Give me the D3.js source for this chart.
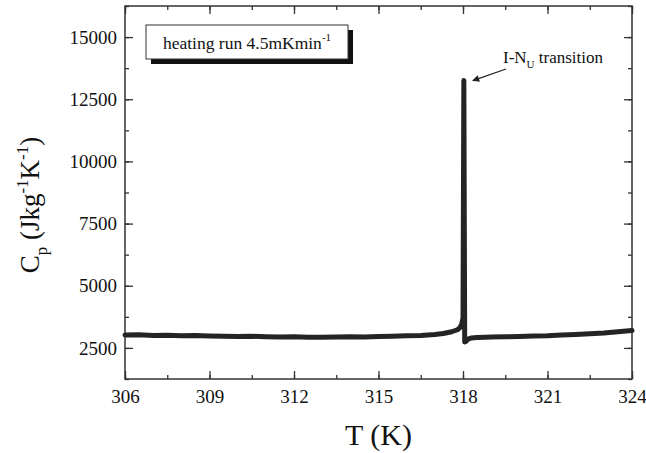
<!DOCTYPE html>
<html>
<head>
<meta charset="utf-8">
<script src="https://cdn.jsdelivr.net/npm/d3@7"></script>
<style>
  body { margin: 0; background: #fff; }
  svg { display: block; font-family: "Liberation Serif", "DejaVu Serif", serif; }
</style>
</head>
<body>
<svg id="chart" width="646" height="453"></svg>
<script>
// temperature (K) and heat capacity (J kg^-1 K^-1)
var temps = [306, 306.5, 307, 307.5, 308, 308.5, 309, 309.5, 310, 310.5, 311, 311.5,
  312, 312.5, 313, 313.5, 314, 314.5, 315, 315.5, 316, 316.5, 317, 317.3, 317.6,
  317.8, 317.9, 317.96, 318.0, 318.03, 318.06, 318.1, 318.18, 318.3, 318.5, 318.8,
  319, 319.5, 320, 320.5, 321, 321.5, 322, 322.5, 323, 323.5, 324];
var cp = [3020, 3030, 3000, 3010, 2990, 3000, 2980, 2970, 2960, 2970, 2950, 2940,
  2950, 2930, 2930, 2940, 2950, 2940, 2960, 2970, 2990, 3000, 3040, 3080, 3150,
  3230, 3330, 3480, 3700, 13250, 2740, 2760, 2850, 2900, 2920, 2930,
  2940, 2950, 2960, 2980, 2990, 3020, 3040, 3070, 3100, 3150, 3200];

var xTicks = [306, 309, 312, 315, 318, 321, 324];
var yTicks = [2500, 5000, 7500, 10000, 12500, 15000];

var margin = {top: 6, right: 14, bottom: 74, left: 125},
    width = 646 - margin.left - margin.right,
    height = 453 - margin.top - margin.bottom;

var svg = d3.select("#chart");
var g = svg.append("g")
    .attr("transform", "translate(" + margin.left + "," + margin.top + ")");

var x = d3.scaleLinear().domain([306, 324]).range([0, width]);
var y = d3.scaleLinear().domain([1250, 16250]).range([height, 0]);

var xMinor = d3.range(306, 324.01, 1.5);
var yMinor = d3.range(1250, 16250.1, 1250);

function styleAxis(sel) {
  sel.attr("font-family", "Liberation Serif").attr("font-size", 19);
  sel.select(".domain").remove();
  sel.selectAll("line").attr("stroke", "#333").attr("stroke-width", 1.3);
  sel.selectAll("text").attr("fill", "#111");
}

// minor ticks on all four sides
g.append("g").attr("transform", "translate(0," + height + ")")
    .call(d3.axisBottom(x).tickValues(xMinor).tickSize(-4).tickFormat("")).call(styleAxis);
g.append("g")
    .call(d3.axisTop(x).tickValues(xMinor).tickSize(-4).tickFormat("")).call(styleAxis);
g.append("g")
    .call(d3.axisLeft(y).tickValues(yMinor).tickSize(-4).tickFormat("")).call(styleAxis);
g.append("g").attr("transform", "translate(" + width + ",0)")
    .call(d3.axisRight(y).tickValues(yMinor).tickSize(-4).tickFormat("")).call(styleAxis);

// major ticks
g.append("g").attr("transform", "translate(0," + height + ")")
    .call(d3.axisBottom(x).tickValues(xTicks).tickSize(-8).tickPadding(11)
      .tickFormat(d3.format("d"))).call(styleAxis);
g.append("g")
    .call(d3.axisTop(x).tickValues(xTicks).tickSize(-8).tickFormat("")).call(styleAxis);
g.append("g")
    .call(d3.axisLeft(y).tickValues(yTicks).tickSize(-8).tickPadding(8)
      .tickFormat(d3.format("d"))).call(styleAxis);
g.append("g").attr("transform", "translate(" + width + ",0)")
    .call(d3.axisRight(y).tickValues(yTicks).tickSize(-8).tickFormat("")).call(styleAxis);

// frame
g.append("rect")
    .attr("width", width).attr("height", height)
    .attr("fill", "none").attr("stroke", "#333").attr("stroke-width", 1.5);

// data line
var pts = temps.map(function(t, i) { return [t, cp[i]]; });
var line = d3.line()
    .x(function(d) { return x(d[0]); })
    .y(function(d) { return y(d[1]); });

g.append("path")
    .datum(pts)
    .attr("d", line)
    .attr("fill", "none")
    .attr("stroke", "#242424")
    .attr("stroke-width", 5)
    .attr("stroke-linejoin", "round")
    .attr("stroke-linecap", "round");

// legend box with shadow
var lx = 146 - margin.left, ly = 25 - margin.top, lw = 202, lh = 34;
g.append("rect").attr("x", lx + 5).attr("y", ly + 5).attr("width", lw).attr("height", lh)
    .attr("fill", "#111");
g.append("rect").attr("x", lx).attr("y", ly).attr("width", lw).attr("height", lh)
    .attr("fill", "#fff").attr("stroke", "#333").attr("stroke-width", 1);
var lt = g.append("text").attr("x", lx + lw / 2).attr("y", ly + 24)
    .attr("text-anchor", "middle").style("font-size", "17.5px").attr("fill", "#111");
lt.append("tspan").text("heating run 4.5mKmin");
lt.append("tspan").attr("dy", -8).style("font-size", "11px").text("-1");

// annotation
var peakT = temps[cp.indexOf(d3.max(cp))], peakV = d3.max(cp);
var ax = x(peakT) + 9, ay = y(peakV);
svg.append("defs").append("marker")
    .attr("id", "arr").attr("viewBox", "0 0 10 10").attr("refX", 9).attr("refY", 5)
    .attr("markerWidth", 9).attr("markerHeight", 7).attr("orient", "auto")
    .attr("markerUnits", "userSpaceOnUse")
  .append("path").attr("d", "M0,0L10,5L0,10z").attr("fill", "#222");
g.append("line")
    .attr("x1", 506 - margin.left).attr("y1", 69 - margin.top)
    .attr("x2", ax).attr("y2", ay)
    .attr("stroke", "#222").attr("stroke-width", 1.2)
    .attr("marker-end", "url(#arr)");
var at = g.append("text").attr("x", 503 - margin.left).attr("y", 63 - margin.top)
    .style("font-size", "17px").attr("fill", "#111");
at.append("tspan").text("I-N");
at.append("tspan").attr("dy", 5).style("font-size", "11px").text("U");
at.append("tspan").attr("dy", -5).text(" transition");

// axis titles
svg.append("text")
    .attr("x", margin.left + width / 2).attr("y", 445)
    .attr("text-anchor", "middle").style("font-size", "30px").attr("fill", "#111")
    .text("T (K)");

var yt = svg.append("text")
    .attr("transform", "translate(39,205) rotate(-90)")
    .attr("text-anchor", "middle").style("font-size", "27px").attr("fill", "#111");
yt.append("tspan").text("C");
yt.append("tspan").attr("dy", 8).style("font-size", "17px").text("p");
yt.append("tspan").attr("dy", -8).text(" (Jkg");
yt.append("tspan").attr("dy", -11).style("font-size", "17px").text("-1");
yt.append("tspan").attr("dy", 11).text("K");
yt.append("tspan").attr("dy", -11).style("font-size", "17px").text("-1");
yt.append("tspan").attr("dy", 11).text(")");
</script>
</body>
</html>
